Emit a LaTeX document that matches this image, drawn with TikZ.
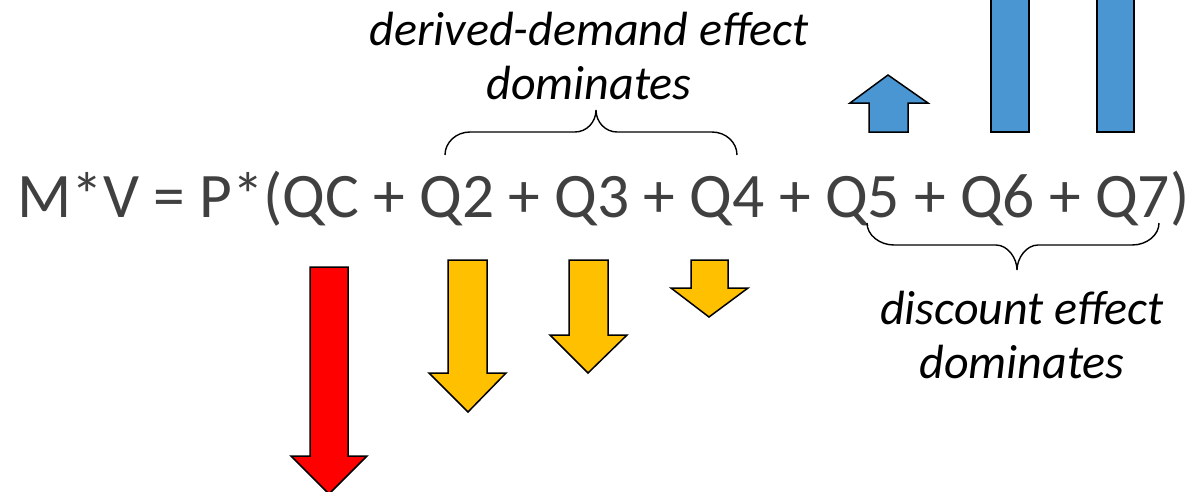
\documentclass[tikz,border=0pt]{standalone}
\usepackage{fontspec}
\setmainfont{Carlito}
\usepackage{graphicx}
\definecolor{eqgray}{HTML}{404040}
\definecolor{redfill}{HTML}{FF0000}
\definecolor{yellowfill}{HTML}{FFC000}
\definecolor{bluefill}{HTML}{4A96D3}
\tikzset{
  arrowshape/.style={draw=black, line width=1.5pt, line join=miter},
  bracepath/.style={draw=black, line width=1.4pt},
  label/.style={inner sep=0pt, align=center, font=\fontsize{48}{54}\selectfont\itshape}
}
\begin{document}
\begin{tikzpicture}[x=1pt,y=-1pt]
\useasboundingbox (0,0) rectangle (1194,491);
% equation
\node[inner sep=0pt, anchor=base west, text=eqgray] (eq) at (17,217)
  {\resizebox{1172pt}{!}{M*V = P*(QC + Q2 + Q3 + Q4 + Q5 + Q6 + Q7)}};
% labels (anchor = baseline of the last line)
\node[label, anchor=base] (lt) at (589,99) {derived-demand effect\\dominates};
\node[label, anchor=base] (lb) at (1022,378) {discount effect\\dominates};
% top brace
\draw[bracepath] (445,155) .. controls (445,142.3) and (456.2,132) .. (470,132)
  -- (575,132) .. controls (586.6,132) and (596,122.1) .. (596,110)
  .. controls (596,122.1) and (605.4,132) .. (617,132)
  -- (712,132) .. controls (725.8,132) and (737,142.3) .. (737,155);
% bottom brace
\draw[bracepath] (867,223) .. controls (867,235.1) and (879.6,245) .. (894,245)
  -- (996,245) .. controls (1007.6,245) and (1017,258) .. (1017,270)
  .. controls (1017,258) and (1026.4,245) .. (1038,245)
  -- (1132,245) .. controls (1146.9,245) and (1159,235.1) .. (1159,223);
% red arrow
\filldraw[arrowshape, fill=redfill] (310,267) -- (348,267) -- (348,456) -- (367,456)
  -- (329,494) -- (291,456) -- (310,456) -- cycle;
% yellow arrows
\filldraw[arrowshape, fill=yellowfill] (448,260) -- (487,260) -- (487,373) -- (506,373)
  -- (468,412) -- (429,373) -- (448,373) -- cycle;
\filldraw[arrowshape, fill=yellowfill] (569,260) -- (608,260) -- (608,335) -- (627,335)
  -- (588,373) -- (550,335) -- (569,335) -- cycle;
\filldraw[arrowshape, fill=yellowfill] (691,260) -- (728,260) -- (728,288) -- (748,288)
  -- (709,317) -- (671,288) -- (691,288) -- cycle;
% blue up arrow
\filldraw[arrowshape, fill=bluefill] (869,132) -- (908,132) -- (908,103) -- (928,103)
  -- (888,75) -- (850,103) -- (869,103) -- cycle;
% blue bars (cut by the top edge)
\filldraw[arrowshape, fill=bluefill] (991,-5) -- (991,132) -- (1029,132) -- (1029,-5);
\filldraw[arrowshape, fill=bluefill] (1097,-5) -- (1097,132) -- (1134,132) -- (1134,-5);
\end{tikzpicture}
\end{document}
